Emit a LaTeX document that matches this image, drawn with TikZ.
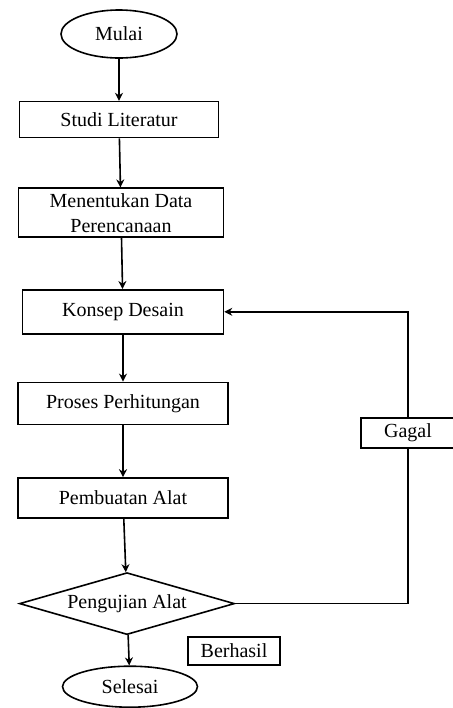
\documentclass[tikz,border=0pt]{standalone}
\usepackage{fontspec}
\setmainfont{Liberation Serif}
\usetikzlibrary{positioning, arrows.meta, shapes.geometric}

\begin{document}
\begin{tikzpicture}[
    >={Stealth[length=4pt, width=4pt]},
    every node/.style={font=\fontsize{10}{12.5}\selectfont},
    box/.style={rectangle, draw, line width=0.8pt, align=center, inner sep=1pt},
    term/.style={ellipse, draw, line width=0.8pt, inner sep=0pt},
    cek/.style={diamond, draw, line width=0.8pt, inner sep=0pt, aspect=3.4},
    arr/.style={->, line width=0.8pt},
    lin/.style={line width=0.8pt}
]
\useasboundingbox (0,0) rectangle (226.5pt,-354pt);

\node[term, minimum width=58pt, minimum height=24pt] (mulai) at (59.5pt,-17pt) {Mulai};
\node[box, minimum width=99.5pt, minimum height=18pt, below=21pt of mulai] (studi) {Studi Literatur};
\node[box, minimum width=102.5pt, minimum height=24.5pt, below=24.5pt of studi, xshift=1pt] (data) {Menentukan Data\\Perencanaan};
\node[box, minimum width=100.5pt, minimum height=22pt, below=25.5pt of data, xshift=1pt] (konsep) {Konsep Desain};
\node[box, minimum width=105pt, minimum height=21pt, below=23.5pt of konsep] (hitung) {Proses Perhitungan};
\node[box, minimum width=105pt, minimum height=20pt, below=26pt of hitung] (buat) {Pembuatan Alat};
\node[cek, minimum width=107.5pt, minimum height=31pt, below=26.5pt of buat, xshift=2pt] (uji) {Pengujian Alat};
\node[term, minimum width=67.5pt, minimum height=20.5pt, below=15pt of uji, xshift=1.5pt] (selesai) {Selesai};

\node[box, minimum width=47pt, minimum height=15pt] (gagal) at (204pt,-216.5pt) {Gagal};
\node[box, minimum width=46pt, minimum height=14pt] (berhasil) at (117pt,-325.5pt) {Berhasil};

\draw[arr] (mulai) -- (studi);
\draw[arr] (studi) -- (data);
\draw[arr] (data) -- (konsep);
\draw[arr] (konsep) -- (hitung);
\draw[arr] (hitung) -- (buat);
\draw[arr] (buat) -- (uji);
\draw[arr] (uji) -- (selesai);

\draw[lin] (uji.east) -| (gagal.south);
\draw[arr] (gagal.north) |- (konsep.east);

\end{tikzpicture}
\end{document}
